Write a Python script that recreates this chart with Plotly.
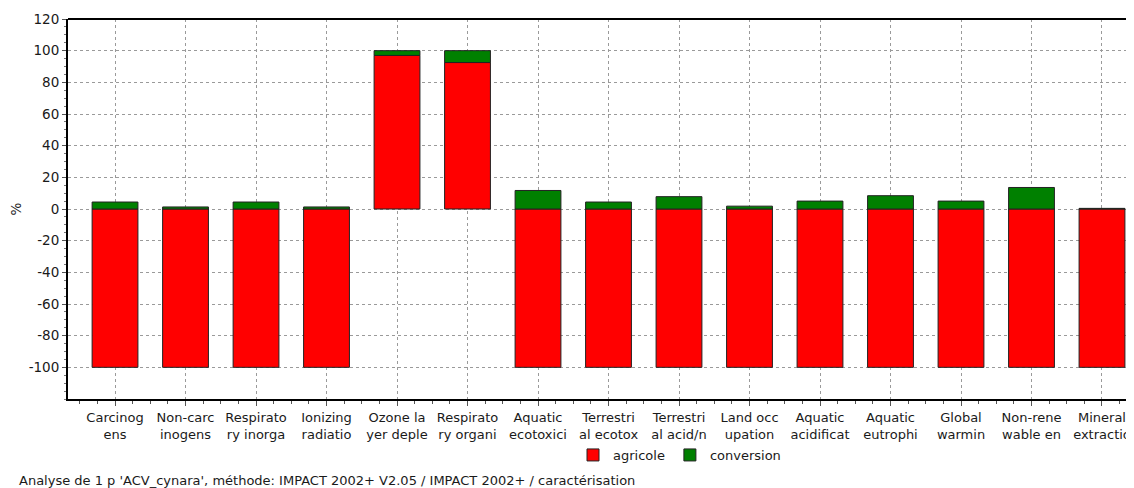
import plotly.graph_objects as go

categories = [
    "Carcinog<br>ens", "Non-carc<br>inogens", "Respirato<br>ry inorga", "Ionizing<br>radiatio",
    "Ozone la<br>yer deple", "Respirato<br>ry organi", "Aquatic<br>ecotoxici", "Terrestri<br>al ecotox",
    "Terrestri<br>al acid/n", "Land occ<br>upation", "Aquatic<br>acidificat", "Aquatic<br>eutrophi",
    "Global<br>warmin", "Non-rene<br>wable en", "Mineral<br>extractio",
]
agricole = [-100, -100, -100, -100, 97, 92.5, -100, -100, -100, -100, -100, -100, -100, -100, -100]
conversion = [4.4, 1.3, 4.4, 1.3, 3, 7.5, 11.7, 4.4, 7.8, 1.8, 5, 8.4, 5, 13.6, 0.4]
y_ticks = [-100, -80, -60, -40, -20, 0, 20, 40, 60, 80, 100, 120]
y_ticklabels = [str(v) for v in y_ticks]

FONT = "DejaVu Sans, Verdana, sans-serif"
TXT = "#1a1a1a"
xpos = list(range(len(categories)))

# page body has an 8px default margin: figure drawn at (8, 8)
OFF = 8
W, H = 1134 - OFF, 488 - OFF
L, T, B = 68 - OFF, 19 - OFF, H - (399 - OFF)
PW, PH = W - L, H - T - B

def px_x(sx):
    return (sx - OFF - L) / PW

def px_y(sy):
    return (T + PH - (sy - OFF)) / PH

fig = go.Figure()
fig.add_trace(go.Bar(x=xpos, y=agricole, name="agricole", width=0.65,
                     marker=dict(color="#ff0000", line=dict(color="#222222", width=1))))
fig.add_trace(go.Bar(x=xpos, y=conversion, name="conversion", width=0.65,
                     marker=dict(color="#008000", line=dict(color="#222222", width=1))))

fig.update_layout(
    width=W, height=H,
    margin=dict(l=L, r=0, t=T, b=B, autoexpand=False),
    barmode="relative",
    plot_bgcolor="white", paper_bgcolor="white",
    font=dict(family=FONT, size=13, color=TXT),
    showlegend=True,
    legend=dict(orientation="h", x=px_x(573), xanchor="left",
                y=px_y(455), yanchor="middle", font=dict(size=13),
                itemwidth=30, traceorder="normal", bgcolor="rgba(0,0,0,0)"),
    xaxis=dict(
        range=[-0.667, 14.454], tickmode="array", tickvals=xpos, ticktext=categories,
        showline=True, linecolor="black", linewidth=2, automargin=False,
        showgrid=True, gridcolor="#9a9a9a", griddash="3px,3px", gridwidth=1,
        ticks="outside", ticklen=5, tickcolor="#555", tickwidth=1,
        minor=dict(dtick=0.25, ticks="outside", ticklen=3, tickcolor="#555", showgrid=False),
        tickangle=0, zeroline=False, tickfont=dict(size=13),
    ),
    yaxis=dict(
        range=[-120, 120], tickmode="array", tickvals=y_ticks, ticktext=y_ticklabels,
        automargin=False,
        showline=True, linecolor="black", linewidth=2,
        showgrid=True, gridcolor="#9a9a9a", griddash="3px,3px", gridwidth=1,
        ticks="outside", ticklen=4, tickcolor="#555",
        minor=dict(dtick=5, ticks="outside", ticklen=2, tickcolor="#777", showgrid=False),
        zeroline=False, tickfont=dict(size=13.5),
        title=dict(text="%", standoff=8, font=dict(size=13.5)),
    ),
    shapes=[dict(type="line", xref="paper", yref="paper", x0=0, x1=1, y0=1, y1=1,
                 line=dict(color="black", width=2))],
    annotations=[dict(text="Analyse de 1 p 'ACV_cynara', méthode: IMPACT 2002+ V2.05 / IMPACT 2002+ / caractérisation",
                      xref="paper", yref="paper", x=px_x(17), y=px_y(480),
                      xanchor="left", yanchor="middle", showarrow=False,
                      font=dict(size=13, color=TXT))],
)

fig.write_html("out.html")
